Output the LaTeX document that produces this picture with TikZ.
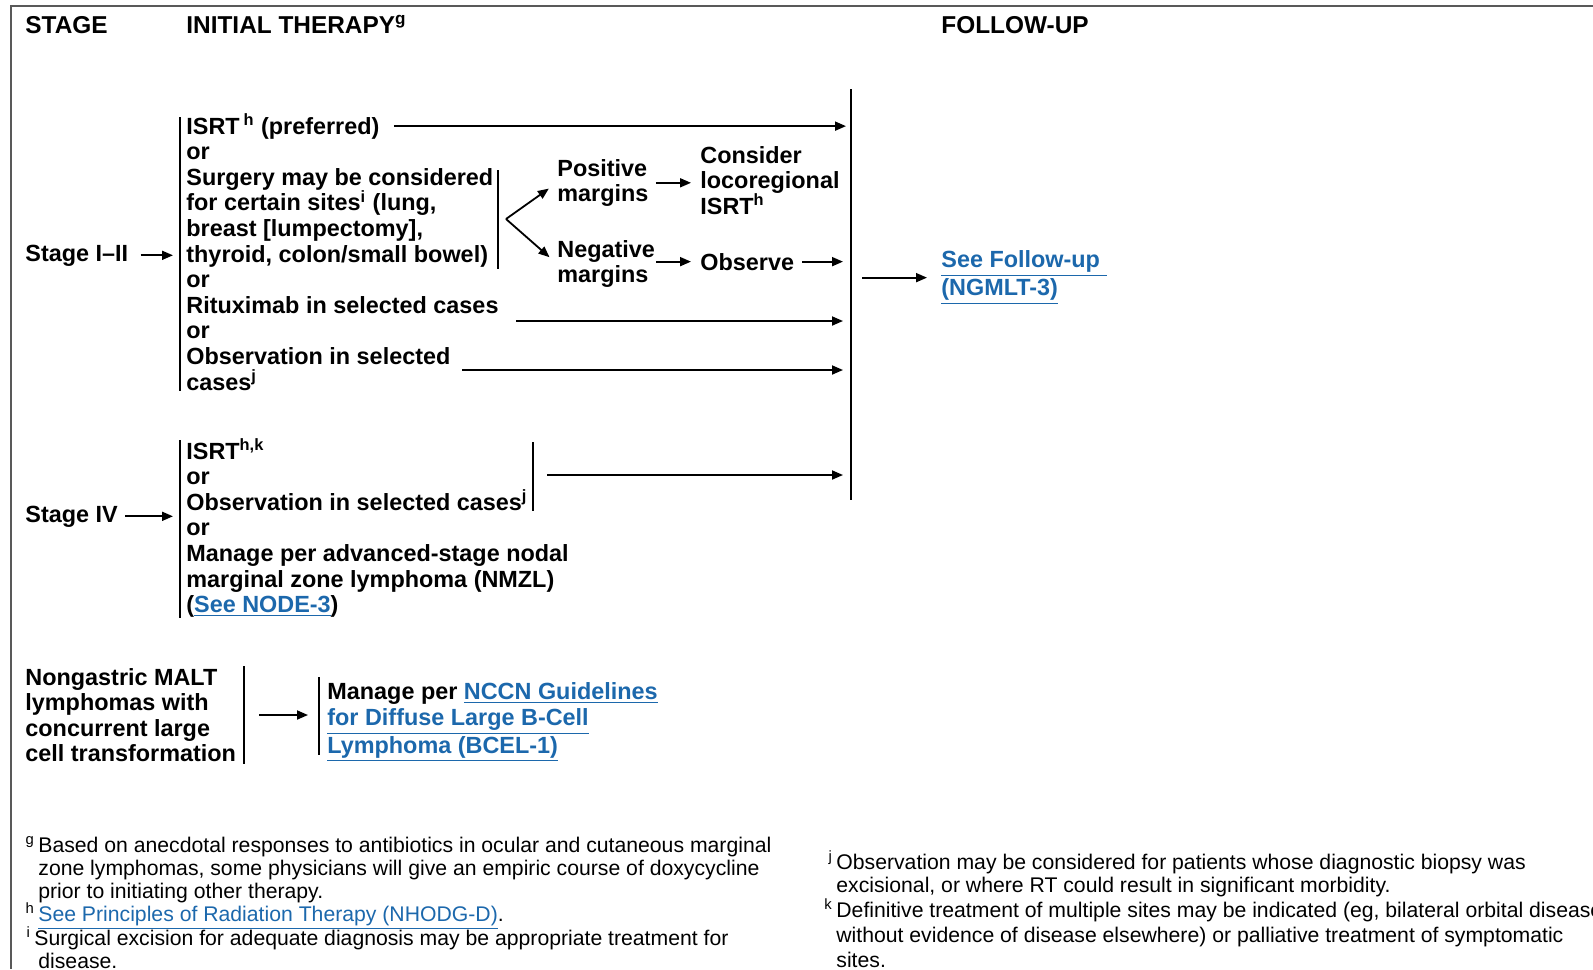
\documentclass[tikz,border=0pt]{standalone}
\usepackage{fontspec}
\setmainfont{Liberation Sans}
\usepackage{xcolor}
\usepackage{tikz}
\usetikzlibrary{arrows.meta}
\definecolor{linkblue}{RGB}{28,104,172}
\newcommand{\lnk}[1]{\textcolor{linkblue}{\underline{#1}}}

\begin{document}
\begin{tikzpicture}[x=0.5pt,y=-0.5pt,
	>={Triangle[length=5.5pt,width=4.5pt]},
	txt/.style={anchor=base west,inner sep=0pt,align=left,font=\fontsize{11.7}{12.8}\selectfont\bfseries},
	head/.style={txt,font=\fontsize{12.2}{13}\selectfont\bfseries},
	note/.style={anchor=base west,inner sep=0pt,align=left,font=\fontsize{10.6}{11.6}\selectfont},
	bar/.style={line width=1pt},
	flow/.style={->,line width=0.9pt}]
	\useasboundingbox (0,0) rectangle (1593,969);
	\clip (0,0) rectangle (1593,969);
	\draw[black!65,line width=1pt] (1593,6) -- (11,6) -- (11,969);
	\draw
	node[head] at (25,33) (stage) {STAGE}
	node[head] at (186,33) (initial) {INITIAL THERAPY\textsuperscript{g}}
	node[head] at (941,33) (follow) {FOLLOW-UP}
	node[txt] at (25,261) (stA) {Stage I–II}
	node[txt] at (186,134) (isrtA) {ISRT\,\textsuperscript{h} (preferred)}
	node[txt] at (186,159.6) (orA) {or}
	node[txt] at (186,262) (surg) {Surgery may be considered\\for certain sites\textsuperscript{i} (lung,\\breast [lumpectomy],\\thyroid, colon/small bowel)}
	node[txt] at (186,287.6) (orB) {or}
	node[txt] at (186,313.2) (ritux) {Rituximab in selected cases}
	node[txt] at (186,338.8) (orC) {or}
	node[txt] at (186,390) (obsA) {Observation in selected\\cases\textsuperscript{j}}
	node[txt] at (557,201.6) (posm) {Positive\\margins}
	node[txt] at (700,214.2) (cons) {Consider\\locoregional\\ISRT\textsuperscript{h}}
	node[txt] at (557,282.6) (negm) {Negative\\margins}
	node[txt] at (700,270) (obsv) {Observe}
	node[txt] at (941,295.6) (fuln) {\lnk{See Follow-up\ }\\\lnk{(NGMLT-3)}}
	node[txt] at (25,522) (stB) {Stage IV}
	node[txt] at (186,612.6) (optB) {ISRT\textsuperscript{h,k}\\or\\Observation in selected cases\textsuperscript{j}\\or\\Manage per advanced-stage nodal\\marginal zone lymphoma (NMZL)\\(\lnk{See NODE-3})}
	node[txt] at (25,761.8) (malt) {Nongastric MALT\\lymphomas with\\concurrent large\\cell transformation}
	node[txt] at (327,753.2) (bcel) {Manage per \lnk{NCCN Guidelines}\\\lnk{for Diffuse Large B-Cell}\\\lnk{Lymphoma (BCEL-1)}}
	node[note] at (38,898.4) (fng) {\llap{\textsuperscript{g}\,}Based on anecdotal responses to antibiotics in ocular and cutaneous marginal\\zone lymphomas, some physicians will give an empiric course of doxycycline\\prior to initiating other therapy.}
	node[note] at (38,921) (fnh) {\llap{\textsuperscript{h}\,}\lnk{See Principles of Radiation Therapy (NHODG-D)}.}
	node[note] at (34,968.2) (fni) {\llap{\textsuperscript{i}\,}Surgical excision for adequate diagnosis may be appropriate treatment for\\\hspace*{2pt}disease.}
	node[note] at (836,892.2) (fnj) {\llap{\textsuperscript{j}\,}Observation may be considered for patients whose diagnostic biopsy was\\excisional, or where RT could result in significant morbidity.}
	node[note,font=\fontsize{10.6}{12.6}\selectfont] at (836,967.4) (fnk) {\llap{\textsuperscript{k}\,}Definitive treatment of multiple sites may be indicated (eg, bilateral orbital disease\\without evidence of disease elsewhere) or palliative treatment of symptomatic\\sites.};
	\coordinate (barAtop) at (180,117);
	\coordinate (barAbot) at (180,391);
	\coordinate (barStop) at (498,170);
	\coordinate (barSbot) at (498,269);
	\coordinate (futop) at (851,89);
	\coordinate (fubot) at (851,500);
	\coordinate (barBtop) at (180,440);
	\coordinate (barBbot) at (180,618);
	\coordinate (barCtop) at (533,442);
	\coordinate (barCbot) at (533,511);
	\coordinate (barDtop) at (244,666);
	\coordinate (barDbot) at (244,764);
	\coordinate (barEtop) at (319,677);
	\coordinate (barEbot) at (319,755);
	\coordinate (fork) at (506,219);
	\coordinate (rxout) at (516,321);
	\coordinate (oxout) at (462,370);
	\coordinate (sxout) at (547,475);
	\coordinate (mxout) at (259,715);
	\draw[bar] (barAtop) -- (barAbot);
	\draw[bar] (barStop) -- (barSbot);
	\draw[bar] (futop) -- (fubot);
	\draw[bar] (barBtop) -- (barBbot);
	\draw[bar] (barCtop) -- (barCbot);
	\draw[bar] (barDtop) -- (barDbot);
	\draw[bar] (barEtop) -- (barEbot);
	\draw[flow,shorten <=6pt,shorten >=3.5pt] (stA.east) -- (stA.east -| barAtop);
	\draw[flow,shorten <=7pt,shorten >=2.5pt] (isrtA.east) -- (isrtA.east -| futop);
	\draw[flow,shorten >=5pt] (fork) -- (posm.west);
	\draw[flow,shorten >=5pt] (fork) -- (negm.west);
	\draw[flow,shorten <=3.5pt,shorten >=4.5pt] (posm.east) -- (posm.east -| cons.west);
	\draw[flow,shorten <=0.5pt,shorten >=4.5pt] (obsv.west -| negm.east) -- (obsv.west);
	\draw[flow,shorten <=4pt,shorten >=4pt] (obsv.east) -- (obsv.east -| futop);
	\draw[flow,shorten <=5.5pt,shorten >=7pt] (fuln.west -| futop) -- (fuln.west);
	\draw[flow,shorten >=4pt] (rxout) -- (rxout -| futop);
	\draw[flow,shorten >=4pt] (oxout) -- (oxout -| futop);
	\draw[flow,shorten <=3.5pt,shorten >=3.5pt] (stB.east) -- (stB.east -| barBtop);
	\draw[flow,shorten >=4pt] (sxout) -- (sxout -| futop);
	\draw[flow,shorten >=5.5pt] (mxout) -- (mxout -| barEtop);
\end{tikzpicture}
\end{document}
